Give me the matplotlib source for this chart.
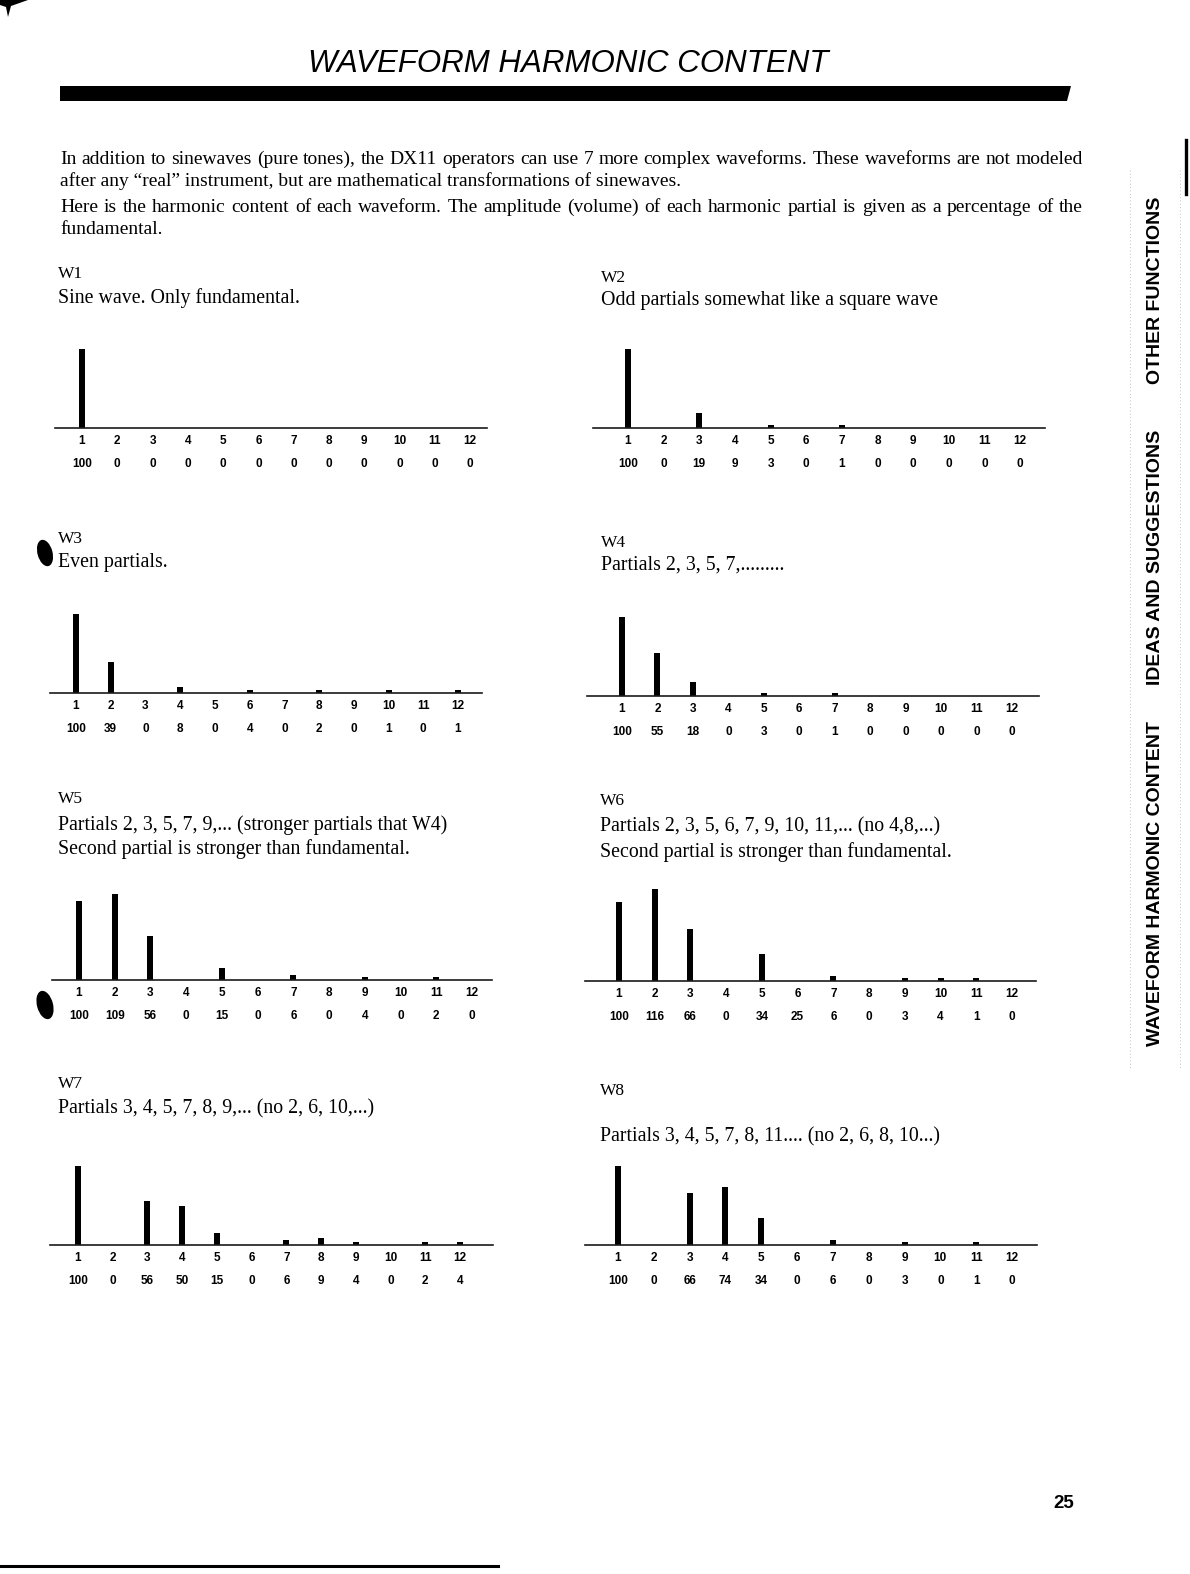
import matplotlib
matplotlib.use("Agg")
import matplotlib.pyplot as plt
from matplotlib.patches import Polygon, Ellipse

W, H = 1190, 1574
DPI = 100

# ---- data ----
partials = list(range(1, 13))

w1_values = [100, 0, 0, 0, 0, 0, 0, 0, 0, 0, 0, 0]
w2_values = [100, 0, 19, 9, 3, 0, 1, 0, 0, 0, 0, 0]
w3_values = [100, 39, 0, 8, 0, 4, 0, 2, 0, 1, 0, 1]
w4_values = [100, 55, 18, 0, 3, 0, 1, 0, 0, 0, 0, 0]
w5_values = [100, 109, 56, 0, 15, 0, 6, 0, 4, 0, 2, 0]
w6_values = [100, 116, 66, 0, 34, 25, 6, 0, 3, 4, 1, 0]
w7_values = [100, 0, 56, 50, 15, 0, 6, 9, 4, 0, 2, 4]
w8_values = [100, 0, 66, 74, 34, 0, 6, 0, 3, 0, 1, 0]

# partials listed in the table but with no bar printed in the original
w2_undrawn = [4]
w6_undrawn = [6]

wave_names = ["W1", "W2", "W3", "W4", "W5", "W6", "W7", "W8"]
wave_notes = [
    ["Sine wave. Only fundamental."],
    ["Odd partials somewhat like a square wave"],
    ["Even partials."],
    ["Partials 2, 3, 5, 7,........."],
    ["Partials 2, 3, 5, 7, 9,... (stronger partials that W4)",
     "Second partial is stronger than fundamental."],
    ["Partials 2, 3, 5, 6, 7, 9, 10, 11,... (no 4,8,...)",
     "Second partial is stronger than fundamental."],
    ["Partials 3, 4, 5, 7, 8, 9,... (no 2, 6, 10,...)"],
    ["Partials 3, 4, 5, 7, 8, 11.... (no 2, 6, 8, 10...)"],
]

intro_lines = [
    "In addition to sinewaves (pure tones), the DX11 operators can use 7 more complex waveforms. These waveforms are not modeled",
    "after any \u201creal\u201d instrument, but are mathematical transformations of sinewaves.",
    "Here is the harmonic content of each waveform. The amplitude (volume) of each harmonic partial is given as a percentage of the",
    "fundamental.",
]
intro_justified = [True, False, True, False]

tab_labels = ["OTHER FUNCTIONS", "IDEAS AND SUGGESTIONS", "WAVEFORM HARMONIC CONTENT"]

SERIF = ["Liberation Serif", "DejaVu Serif"]
SANS = ["Liberation Sans", "DejaVu Sans"]

PX_PER_UNIT = 0.79   # bar height in pixels per percent

# panel geometry in page pixels: baseline x0, x1, bar 1 x, bar 12 x, baseline y
panel_geom = [
    (55, 487, 82, 470, 428),
    (593, 1045, 628, 1020, 428),
    (50, 482, 76, 458, 693),
    (587, 1039, 622, 1012, 696),
    (52, 492, 79, 472, 980),
    (585, 1036, 619, 1012, 981),
    (50, 493, 78, 460, 1245),
    (585, 1037, 618, 1012, 1245),
]
# heading positions: x, y of name, y of each note line
heading_geom = [
    (58, 274, [298]),
    (601, 278, [301]),
    (58, 539, [562]),
    (601, 543, [565]),
    (58, 799, [825, 849]),
    (600, 801, [827, 852]),
    (58, 1084, [1109]),
    (600, 1091, [1137]),
]


def px_axes(x0, y_top, w, h):
    return [x0 / W, 1 - (y_top + h) / H, w / W, h / H]


def justified(fig, page, text, x0, x1, y, **kw):
    # spread the words of one line so it runs from x0 to x1, like the printed page
    words = text.split()
    rend = fig.canvas.get_renderer()
    widths = []
    for w in words:
        t = page.text(0, 0, w, **kw)
        widths.append(t.get_window_extent(rend).width)
        t.remove()
    gap = (x1 - x0 - sum(widths)) / (len(words) - 1)
    x = x0
    for w, wd in zip(words, widths):
        page.text(x, y, w, ha="left", va="center", **kw)
        x += wd + gap


def draw_panel(fig, values, undrawn, geom):
    x0, x1, b1, b12, base = geom
    spacing = (b12 - b1) / 11.0
    lo = 1 + (x0 - b1) / spacing
    hi = 1 + (x1 - b1) / spacing
    h_px = 110
    ax = fig.add_axes(px_axes(x0, base - h_px, x1 - x0, h_px))
    ax.patch.set_visible(False)
    ax.set_xlim(lo, hi)
    ax.set_ylim(0, h_px / PX_PER_UNIT)

    heights = []
    for p, v in zip(partials, values):
        if p in undrawn or v <= 0:
            heights.append(0)
        else:
            heights.append(max(v, 3.5))
    ax.bar(partials, heights, width=6 / spacing, color="black", linewidth=0)

    for side in ("top", "right", "left"):
        ax.spines[side].set_visible(False)
    ax.spines["bottom"].set_linewidth(1.2)
    ax.spines["bottom"].set_color("#1a1a1a")
    ax.set_yticks([])
    ax.set_xticks(partials)
    ax.set_xticklabels([str(p) for p in partials], fontsize=8.5,
                       fontweight="bold", family=SANS)
    ax.tick_params(axis="x", length=0, pad=5)

    for p, v in zip(partials, values):
        ax.annotate(str(v), xy=(p, 0), xycoords="data", xytext=(0, -36),
                    textcoords="offset pixels", ha="center", va="center",
                    fontsize=8.5, fontweight="bold", family=SANS)
    return ax


def main() -> None:
    fig = plt.figure(figsize=(W / DPI, H / DPI), dpi=DPI)
    page = fig.add_axes([0, 0, 1, 1])
    page.set_xlim(0, W)
    page.set_ylim(H, 0)
    page.axis("off")

    # title and black rule
    page.text(568, 64, "WAVEFORM HARMONIC CONTENT", ha="center", va="center",
              fontsize=22.5, style="italic", family=SANS)
    page.add_patch(Polygon([(60, 86), (1071, 86), (1067, 101), (60, 101)],
                           closed=True, color="black", lw=0))

    # intro paragraph
    for txt, just, y in zip(intro_lines, intro_justified, [159, 181, 207, 229]):
        if just:
            justified(fig, page, txt, 60, 1083, y, fontsize=14, family=SERIF)
        else:
            page.text(60, y, txt, ha="left", va="center", fontsize=14, family=SERIF)

    # headings
    for name, notes, (hx, hy, note_ys) in zip(wave_names, wave_notes, heading_geom):
        page.text(hx, hy, name, ha="left", va="center", fontsize=12.5, family=SERIF)
        for line, ny in zip(notes, note_ys):
            page.text(hx, ny, line, ha="left", va="center", fontsize=14.3, family=SERIF)

    # charts
    all_values = [w1_values, w2_values, w3_values, w4_values,
                  w5_values, w6_values, w7_values, w8_values]
    all_undrawn = [[], w2_undrawn, [], [], [], w6_undrawn, [], []]
    for vals, und, geom in zip(all_values, all_undrawn, panel_geom):
        draw_panel(fig, vals, und, geom)

    # side tabs
    for lab, yc in zip(tab_labels, [290, 557, 884]):
        page.text(1156, yc, lab, rotation=90, ha="center", va="center",
                  fontsize=14, fontweight="bold", family=SANS)
    for xl in (1130, 1180):
        page.plot([xl, xl], [170, 1070], color="#b0b0b0", lw=0.6,
                  linestyle=(0, (1, 3)))
    page.plot([1186, 1186], [140, 194], color="black", lw=2.4)

    # page number and scan marks
    page.text(1064, 1503, "25", ha="center", va="center", fontsize=13.5,
              fontweight="bold", family=SANS)
    page.plot([0, 498], [1566, 1566], color="black", lw=2.2)
    page.add_patch(Polygon([(0, 0), (28, 0), (11, 6), (8, 17), (6, 7), (0, 5)],
                           closed=True, color="black", lw=0))
    page.add_patch(Ellipse((45, 553), 15, 27, angle=-15, color="black", lw=0))
    page.add_patch(Ellipse((45, 1005), 16, 29, angle=-15, color="black", lw=0))

    fig.savefig("out.png", dpi=DPI, facecolor="white")
    plt.close(fig)


if __name__ == "__main__":
    main()
